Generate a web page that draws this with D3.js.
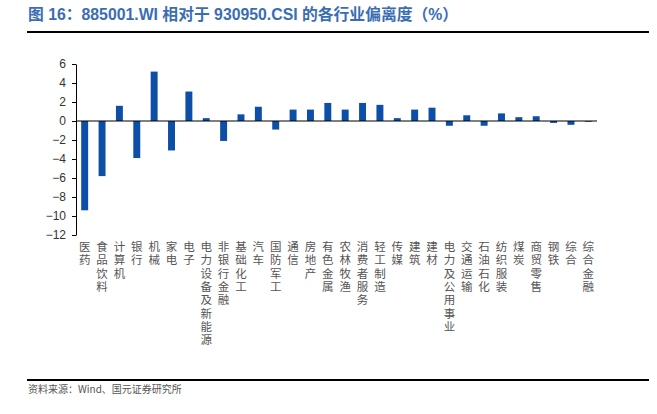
<!DOCTYPE html>
<html>
<head>
<meta charset="utf-8">
<script src="https://cdn.jsdelivr.net/npm/d3@7"></script>
<style>
  body { margin: 0; background: #fff; }
  svg { display: block; }
  .vlabel { writing-mode: vertical-rl; text-orientation: upright; }
</style>
</head>
<body>
<svg></svg>
<script>
var w = 657, h = 414;

// industries and deviation (%)
var categories = ["医药", "食品饮料", "计算机", "银行", "机械", "家电", "电子", "电力设备及新能源",
    "非银行金融", "基础化工", "汽车", "国防军工", "通信", "房地产", "有色金属", "农林牧渔",
    "消费者服务", "轻工制造", "传媒", "建筑", "建材", "电力及公用事业", "交通运输", "石油石化",
    "纺织服装", "煤炭", "商贸零售", "钢铁", "综合", "综合金融"];
var values = [-9.4, -5.8, 1.6, -3.9, 5.2, -3.1, 3.1, 0.3,
    -2.1, 0.7, 1.5, -0.9, 1.2, 1.2, 1.9, 1.2,
    1.9, 1.7, 0.3, 1.2, 1.4, -0.5, 0.6, -0.5,
    0.8, 0.4, 0.5, -0.2, -0.4, -0.08];
var yTicks = [6, 4, 2, 0, -2, -4, -6, -8, -10, -12];

var title = "图 16：885001.WI 相对于 930950.CSI 的各行业偏离度（%）";
var source = "资料来源：Wind、国元证券研究所";

var svg = d3.select("svg").attr("width", w).attr("height", h);

// title + rules
svg.append("text")
    .attr("x", 28).attr("y", 20)
    .attr("font-family", "Liberation Sans, Noto Sans CJK SC, sans-serif")
    .attr("font-size", 15.8).attr("font-weight", "bold")
    .attr("fill", "#3a6db3")
    .text(title);
svg.append("line").attr("x1", 27).attr("x2", 649).attr("y1", 32).attr("y2", 32)
    .attr("stroke", "#000").attr("stroke-width", 2);
svg.append("line").attr("x1", 27).attr("x2", 649).attr("y1", 380).attr("y2", 380)
    .attr("stroke", "#000").attr("stroke-width", 2);
svg.append("text")
    .attr("x", 28).attr("y", 393)
    .attr("font-family", "Noto Sans CJK SC, sans-serif")
    .attr("font-size", 10).attr("fill", "#555")
    .text(source);

var x = d3.scaleBand().domain(categories).range([76, 597]).paddingInner(0.6).paddingOuter(0.3);
var y = d3.scaleLinear().domain([-12, 6]).range([235, 64]);

// bars
svg.append("g").selectAll("rect")
    .data(values)
    .enter().append("rect")
    .attr("x", (d, i) => x(categories[i]))
    .attr("y", d => y(Math.max(0, d)))
    .attr("width", x.bandwidth())
    .attr("height", d => Math.abs(y(d) - y(0)))
    .attr("fill", "#0d4ea6");

// y axis
var yAxis = svg.append("g")
    .attr("transform", "translate(76,0)")
    .call(d3.axisLeft(y).tickValues(yTicks).tickSize(4).tickSizeOuter(0).tickFormat(d3.format("d")));
yAxis.select(".domain").attr("stroke", "#000");
yAxis.selectAll(".tick line").attr("stroke", "#000");
yAxis.selectAll(".tick text")
    .attr("font-family", "Liberation Sans, Arial, sans-serif")
    .attr("font-size", 12).attr("fill", "#333")
    .attr("x", -10);

// zero line
svg.append("line")
    .attr("x1", 76).attr("x2", 597)
    .attr("y1", y(0)).attr("y2", y(0))
    .attr("stroke", "#000").attr("stroke-width", 1.2);

// vertical category labels
svg.append("g").selectAll("text")
    .data(categories)
    .enter().append("text")
    .attr("class", "vlabel")
    .attr("x", d => x(d) + x.bandwidth() / 2)
    .attr("y", 241)
    .attr("font-family", "Noto Sans CJK SC, sans-serif")
    .attr("font-size", 11.5).attr("fill", "#555")
    .attr("letter-spacing", 1.8)
    .text(d => d);
</script>
</body>
</html>
